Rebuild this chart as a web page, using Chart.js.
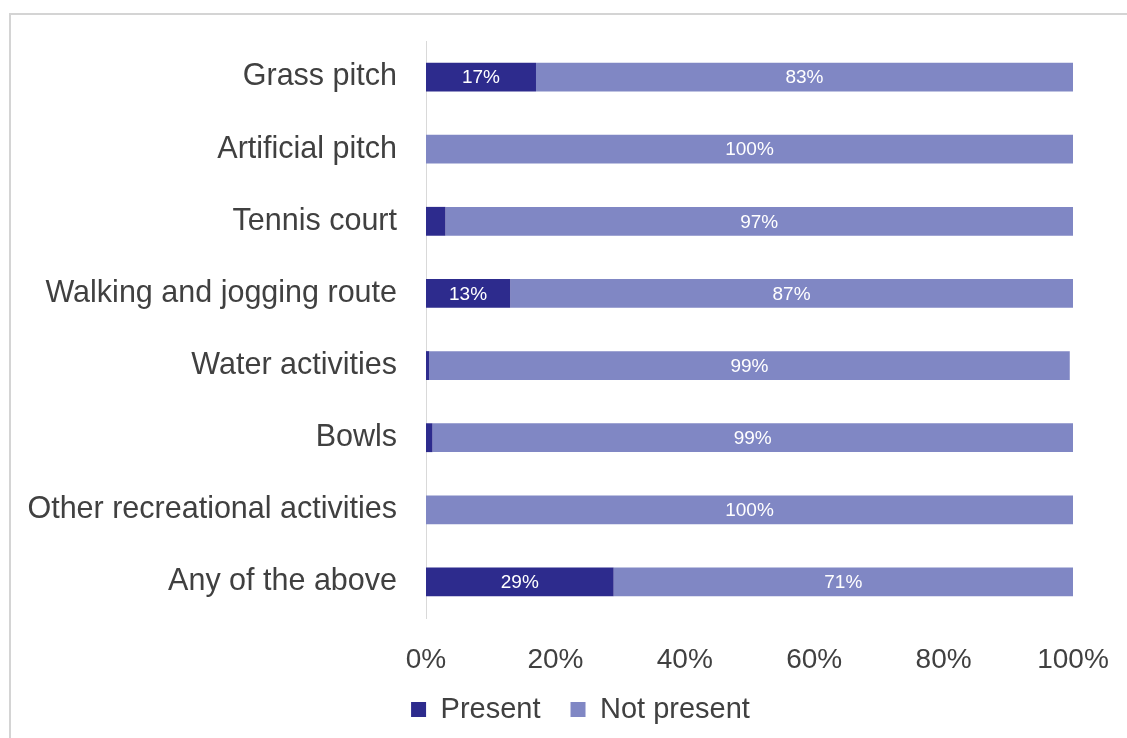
<!DOCTYPE html>
<html>
<head>
<meta charset="utf-8">
<script src="https://cdn.jsdelivr.net/npm/chart.js@4"></script>
<style>
	html, body { margin: 0; padding: 0; background: #fff; }
	#wrap { position: relative; width: 1127px; height: 738px; }
	#frame { position: absolute; left: 9px; top: 13px; right: -5px; bottom: -5px; border-left: 2px solid #d4d4d4; border-top: 2px solid #d4d4d4; }
	canvas { position: absolute; left: 0; top: 0; }
</style>
</head>
<body>
<div id="wrap">
	<div id="frame"></div>
	<canvas id="myChart" width="1127" height="738"></canvas>
</div>
<script>
const categories = ["Grass pitch", "Artificial pitch", "Tennis court", "Walking and jogging route", "Water activities", "Bowls", "Other recreational activities", "Any of the above"];
const present = [17, 0, 3, 13, 0.5, 1, 0, 29];
const notPresent = [83, 100, 97, 87, 99, 99, 100, 71];
// which labels are printed inside the bars
const presentLabels = ["17%", "", "", "13%", "", "", "", "29%"];
const notPresentLabels = ["83%", "100%", "97%", "87%", "99%", "99%", "100%", "71%"];
const xTicks = [0, 20, 40, 60, 80, 100];

const FONT = '"Liberation Sans", Arial, sans-serif';
const ctx = document.getElementById('myChart');

const barLabels = {
	id: 'barLabels',
	afterLayout(chart) {
		// legend sits a bit right of centre in the original
		chart.legend.left += 44;
		chart.legend.right += 44;
		// let the x tick labels run into the legend band without being clipped
		chart.scales.x.bottom = chart.height;
	},
	afterDatasetsDraw(chart) {
		const c = chart.ctx;
		c.save();
		c.fillStyle = '#ffffff';
		c.font = '19px ' + FONT;
		c.textAlign = 'center';
		c.textBaseline = 'middle';
		const lists = [presentLabels, notPresentLabels];
		chart.data.datasets.forEach((ds, i) => {
			const meta = chart.getDatasetMeta(i);
			meta.data.forEach((bar, j) => {
				const txt = lists[i][j];
				if (!txt) return;
				const x = (bar.x + bar.base) / 2;
				c.fillText(txt, x, bar.y + 1);
			});
		});
		c.restore();
	}
};

const myChart = new Chart(ctx, {
	type: 'bar',
	data: {
		labels: categories,
		datasets: [{
			label: 'Present',
			backgroundColor: '#2d2b8d',
			data: present,
			barPercentage: 0.4,
			categoryPercentage: 1
		}, {
			label: 'Not present',
			backgroundColor: '#8087c4',
			data: notPresent,
			barPercentage: 0.4,
			categoryPercentage: 1
		}]
	},
	options: {
		indexAxis: 'y',
		responsive: false,
		animation: false,
		layout: { padding: { top: 41, right: 54, left: 0, bottom: 4 } },
		plugins: {
			tooltip: { enabled: false },
			legend: {
				position: 'bottom',
				labels: {
					color: '#404040',
					font: { size: 29, family: FONT },
					boxWidth: 15,
					boxHeight: 15,
					padding: 30
				}
			}
		},
		scales: {
			x: {
				stacked: true,
				min: 0,
				max: 100,
				afterBuildTicks(axis) { axis.ticks = xTicks.map(v => ({ value: v })); },
				afterFit(axis) {
					axis.height = 47;
					axis.paddingLeft = 0;
					axis.paddingRight = 0;
				},
				grid: { display: false, drawTicks: false },
				border: { display: false },
				ticks: {
					color: '#404040',
					padding: 25,
					maxRotation: 0,
					font: { size: 28, family: FONT },
					callback: v => v + '%'
				}
			},
			y: {
				stacked: true,
				afterFit(axis) {
					axis.width = 426;
					axis.paddingTop = 0;
					axis.paddingBottom = 0;
				},
				grid: { display: false, drawTicks: false },
				border: { display: true, color: '#d9d9d9', width: 1 },
				ticks: {
					color: '#404040',
					padding: 29,
					font: { size: 30.5, family: FONT }
				}
			}
		}
	},
	plugins: [barLabels]
});
</script>
</body>
</html>
